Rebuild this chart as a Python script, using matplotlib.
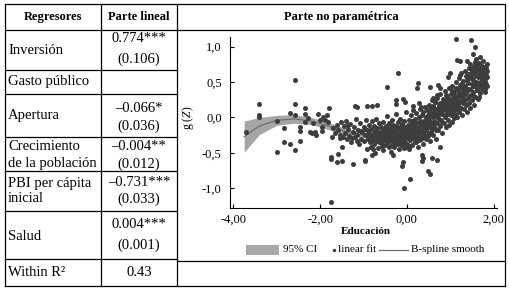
import numpy as np
import matplotlib
matplotlib.use("Agg")
import matplotlib.pyplot as plt
from matplotlib.patches import Rectangle

plt.rcParams['font.family'] = ['Liberation Serif', 'DejaVu Serif']
plt.rcParams['mathtext.fontset'] = 'custom'
plt.rcParams['mathtext.rm'] = 'Liberation Serif'
plt.rcParams['mathtext.it'] = 'Liberation Serif:italic'

# table content
headers = ["Regresores", "Parte lineal", "Parte no paramétrica"]
regresores = ["Inversión", "Gasto público", "Apertura", "Crecimiento\nde la población",
              "PBI per cápita\ninicial", "Salud", "Within R²"]
coefs = ["0.774***", "", "–0.066*", "–0.004**", "–0.731***", "0.004***", "0.43"]
errores = ["(0.106)", "", "(0.036)", "(0.012)", "(0.033)", "(0.001)", ""]

# B-spline smooth and 95% CI
spl_x = [-3.75, -3.4, -3.0, -2.6, -2.2, -1.8, -1.4, -1.0, -0.6, -0.2, 0.2, 0.6, 1.0, 1.4, 1.8]
spl_y = [-0.27, -0.12, -0.04, -0.02, -0.05, -0.12, -0.2, -0.25, -0.25, -0.19, -0.09, 0.04, 0.18, 0.36, 0.58]
spl_hw = [0.22, 0.12, 0.07, 0.06, 0.05, 0.05, 0.045, 0.03, 0.02, 0.02, 0.02, 0.02, 0.025, 0.03, 0.04]

# scatter: Educacion vs g(Z)
edu = [-3.71, -3.41, -3.41, -3.41, -2.99, -2.99, -2.83, -2.83, -2.69, -2.69, -2.58, -2.58, -2.58, -2.58,
       -2.46, -2.46, -2.46, -2.35, -2.35, -2.35, -2.28, -2.23, -2.19, -2.16, -2.12, -2.09, -2.05, -2.00,
       -1.96, -1.96, -1.93, -1.89, -1.84, -1.82, -1.79, -1.75, -1.75, -1.75, -1.61, -1.50, -1.54, -1.50,
       -1.24, -1.20, -1.15, -0.97, -0.92, -1.59,
       1.13, 1.48, 1.57, 1.53, 1.15, 1.22, 1.38, 1.45, -0.20, -0.47, 0.26, 0.23, 0.53, 0.72, 0.76, 0.99, 0.95,
       -0.70, -0.81, -0.24, -0.25, -0.08, -0.04, 0.15, 0.29, 0.32, 0.61, 0.65, 0.69, 1.68, 1.72, 1.61, 1.65,
       -0.97, -0.81, -0.74, -0.31, -0.08, -0.12, 0.06, -0.06, 0.34, 0.38, 0.34, 0.49, 0.53, 0.57, 0.69, 0.76,
       -1.45, -1.42, -1.40, -1.38, -1.35, -1.33, -1.30, -1.28, -1.25, -1.22, -1.20, -1.18, -1.15, -1.12, -1.10,
       -1.08, -1.05, -1.03, -1.00, -0.98, -0.96, -0.95, -0.93, -0.91, -0.90,
       -1.62, -1.58, -1.55, -1.52, -1.65, -1.70, -1.72,
       -0.88, -0.87, -0.86, -0.85, -0.83, -0.82, -0.80, -0.79, -0.78, -0.76, -0.75, -0.74, -0.72, -0.71, -0.70,
       -0.68, -0.67, -0.66, -0.64, -0.63, -0.62, -0.60, -0.59, -0.58, -0.56, -0.55, -0.54, -0.53, -0.52, -0.50,
       -0.49, -0.48, -0.47, -0.46, -0.45, -0.44, -0.43, -0.42, -0.41, -0.40, -0.39, -0.38, -0.37, -0.36, -0.35,
       -0.34, -0.33, -0.32, -0.31, -0.30, -0.29, -0.28, -0.27, -0.26, -0.25, -0.24, -0.23, -0.22, -0.21, -0.20,
       -0.19, -0.18, -0.17, -0.16, -0.15, -0.14, -0.13, -0.12, -0.11, -0.10, -0.09, -0.08, -0.07, -0.06, -0.05,
       -0.04, -0.03, -0.02, -0.01,
       0.00, 0.01, 0.02, 0.03, 0.04, 0.05, 0.06, 0.07, 0.08, 0.09, 0.10, 0.11, 0.12, 0.13, 0.14, 0.15, 0.16,
       0.17, 0.18, 0.19, 0.20, 0.21, 0.22, 0.23, 0.24, 0.25, 0.26, 0.27, 0.28, 0.29, 0.30, 0.31, 0.32, 0.33,
       0.34, 0.35, 0.36, 0.37, 0.38, 0.39, 0.40, 0.41, 0.42, 0.43, 0.44, 0.45, 0.46, 0.47, 0.48, 0.49,
       0.50, 0.51, 0.52, 0.53, 0.54, 0.55, 0.56, 0.57, 0.58, 0.59, 0.60, 0.61, 0.62, 0.63, 0.64, 0.65, 0.66,
       0.67, 0.68, 0.69, 0.70, 0.71, 0.72, 0.73, 0.74, 0.75, 0.76, 0.77, 0.78, 0.79, 0.80, 0.81, 0.82, 0.83,
       0.84, 0.85, 0.86, 0.87, 0.88, 0.89, 0.90, 0.91, 0.92, 0.93, 0.94, 0.95, 0.96, 0.97, 0.98, 0.99,
       1.00, 1.01, 1.02, 1.03, 1.04, 1.05, 1.06, 1.07, 1.08, 1.09, 1.10, 1.11, 1.12, 1.13, 1.14, 1.15, 1.16,
       1.17, 1.18, 1.19, 1.20, 1.21, 1.22, 1.23, 1.24, 1.25, 1.26, 1.27, 1.28, 1.29, 1.30, 1.31, 1.32, 1.33,
       1.34, 1.35, 1.36, 1.37, 1.38, 1.39, 1.40, 1.41, 1.42, 1.43, 1.44, 1.45, 1.46, 1.47, 1.48, 1.49,
       1.50, 1.51, 1.52, 1.53, 1.54, 1.55, 1.56, 1.57, 1.58, 1.59, 1.60, 1.61, 1.62, 1.63, 1.64, 1.65, 1.66,
       1.67, 1.68, 1.69, 1.70, 1.71, 1.72, 1.73, 1.74, 1.75, 1.76, 1.77, 1.78, 1.79, 1.80, 1.81, 1.82, 1.83,
       1.84, 1.85,
       -1.48, -1.36, -1.26, -1.16, -1.06, -0.97, -0.89, -0.81, -0.77, -0.69, -0.65, -0.61, -0.57, -0.51,
       -0.47, -0.44, -0.40, -0.36, -0.33, -0.29, -0.25, -0.22, -0.18, -0.15, -0.11, -0.08, -0.05, -0.02,
       0.02, 0.05, 0.08, 0.11, 0.14, 0.17, 0.20, 0.23, 0.26, 0.29, 0.32, 0.35, 0.38, 0.41, 0.44, 0.47,
       0.52, 0.55, 0.58, 0.61, 0.64, 0.67, 0.70, 0.73, 0.76, 0.79, 0.82, 0.85, 0.88, 0.91, 0.94, 0.97,
       0.53, 0.62, 0.71, 0.80, 0.89, 0.98,
       1.02, 1.05, 1.08, 1.11, 1.14, 1.17, 1.20, 1.23, 1.26, 1.29, 1.32, 1.35, 1.38, 1.41, 1.44, 1.47,
       1.04, 1.12, 1.22, 1.30, 1.40, 1.48,
       1.52, 1.55, 1.58, 1.61, 1.64, 1.67, 1.70, 1.73, 1.76, 1.79, 1.82, 1.85,
       1.54, 1.60, 1.66, 1.72, 1.78, 1.84, 1.57, 1.69, 1.81]
gz = [-0.21, 0.19, 0.03, 0.00, -0.05, -0.48, -0.15, -0.34, -0.37, 0.07, 0.19, 0.53, 0.03, -0.46,
      -0.14, -0.19, -0.33, 0.13, 0.05, -0.06, -0.01, -0.20, -0.22, -0.08, -0.21, -0.25, 0.05, -0.04,
      -0.13, -0.19, 0.01, -0.03, 0.04, -0.06, 0.14, -0.55, -0.59, -1.19, -0.62, -0.61, -0.29, -0.41,
      -0.65, 0.16, 0.15, -0.61, 0.16, -0.51,
      1.10, 1.09, 1.00, 0.89, 0.81, 0.79, 0.79, 0.76, 0.62, 0.43, 0.49, 0.42, 0.43, 0.46, 0.42, 0.62, 0.57,
      0.18, 0.16, 0.24, 0.19, 0.26, 0.22, 0.16, 0.20, 0.15, 0.27, 0.22, 0.32, 0.67, 0.50, 0.39, 0.29,
      -0.60, -0.53, -0.50, -0.53, -0.62, -0.69, -0.86, -1.00, -0.53, -0.57, -0.61, -0.76, -0.79, -0.57, -0.60, -0.41,
      -0.12, -0.22, -0.05, -0.30, -0.16, -0.26, -0.09, -0.35, -0.20, -0.13, -0.28, -0.02, -0.24, -0.17, -0.38,
      -0.08, -0.30, -0.21, -0.14, -0.33, -0.25, -0.04, -0.45, -0.18, -0.28,
      -0.10, -0.18, -0.25, -0.06, -0.22, -0.15, -0.27,
      -0.22, -0.10, -0.35, -0.28, -0.16, -0.41, -0.05, -0.31, -0.23, -0.12, -0.37, -0.19, -0.27, -0.02, -0.33,
      -0.15, -0.43, -0.24, -0.08, -0.30, -0.20, -0.36, -0.13, -0.27, -0.46, -0.18, -0.06, -0.32, -0.23, -0.39,
      -0.12, -0.28, -0.20, 0.02, -0.35, -0.16, -0.25, -0.42, -0.08, -0.31, -0.19, -0.27, -0.48, -0.14, -0.37,
      -0.04, -0.22, -0.30, -0.10, -0.41, -0.17, -0.26, -0.33, 0.05, -0.21, -0.12, -0.38, -0.29, -0.07, -0.18,
      -0.45, -0.24, -0.33, -0.14, -0.02, -0.27, -0.39, -0.20, -0.09, -0.31, -0.16, -0.25, -0.43, -0.05, -0.35,
      -0.13, -0.22, -0.29, 0.08,
      -0.18, -0.37, -0.10, -0.26, -0.45, -0.03, -0.21, -0.31, -0.14, 0.04, -0.24, -0.39, -0.08, -0.17, -0.29,
      0.10, -0.12, -0.22, -0.34, -0.02, -0.15, -0.27, 0.06, -0.19, -0.08, -0.42, -0.25, 0.00, -0.13, -0.32,
      -0.05, 0.12, -0.20, -0.10, -0.28, 0.03, -0.16, -0.37, 0.08, -0.06, -0.23, 0.15, -0.12, -0.30, 0.01,
      -0.18, 0.10, -0.08, -0.26, 0.04,
      -0.14, 0.18, -0.03, -0.33, 0.08, -0.20, 0.13, -0.09, 0.25, 0.00, -0.25, 0.16, -0.05, 0.06, -0.15,
      0.22, 0.02, -0.30, 0.11, -0.08, 0.28, 0.04, -0.18, 0.17, -0.02, 0.09, -0.12, 0.33, 0.14, -0.04,
      0.21, 0.05, -0.22, 0.26, 0.10, -0.08, 0.17, 0.37, 0.01, 0.22, -0.13, 0.12, 0.30, 0.06, -0.03,
      0.19, 0.41, 0.09, -0.10, 0.25,
      0.15, 0.03, 0.33, -0.06, 0.20, 0.45, 0.10, 0.28, -0.01, 0.36, 0.16, 0.05, 0.50, 0.24, 0.12,
      0.40, 0.00, 0.30, 0.19, 0.55, 0.08, 0.35, 0.23, 0.46, 0.14, 0.62, 0.29, 0.04, 0.41, 0.20,
      0.52, 0.33, 0.12, 0.66, 0.25, 0.45, 0.17, 0.58, 0.37, 0.08, 0.49, 0.28, 0.70, 0.21, 0.55,
      0.40, 0.13, 0.62, 0.32, 0.47,
      0.24, 0.66, 0.53, 0.36, 0.72, 0.18, 0.45, 0.60, 0.29, 0.69, 0.50, 0.39, 0.75, 0.57, 0.26,
      0.64, 0.44, 0.70, 0.34, 0.58, 0.50, 0.66, 0.40, 0.73, 0.55, 0.62, 0.46, 0.68, 0.57, 0.36,
      0.63, 0.52, 0.70, 0.60, 0.45, 0.66,
      -0.27, -0.11, -0.29, -0.33, -0.19, -0.16, -0.30, -0.26, -0.44, -0.21, -0.34, -0.27, -0.40, -0.15,
      -0.36, -0.30, -0.22, -0.28, -0.40, -0.34, -0.30, -0.16, -0.36, -0.23, -0.27, -0.37, -0.24, -0.41,
      -0.28, -0.15, -0.40, -0.05, -0.20, -0.09, -0.35, -0.27, -0.16, -0.22, -0.30, -0.10, -0.19, -0.05, -0.28, -0.15,
      -0.22, 0.02, -0.16, -0.10, 0.12, -0.18, 0.00, 0.07, 0.20, 0.09, 0.13, 0.25, 0.15, 0.04, 0.28, 0.15,
      -0.08, 0.08, 0.14, -0.06, 0.31, 0.05,
      0.25, 0.08, 0.18, 0.30, 0.22, 0.40, 0.15, 0.32, 0.48, 0.27, 0.42, 0.33, 0.53, 0.40, 0.30, 0.55,
      0.38, 0.42, 0.60, 0.38, 0.61, 0.68,
      0.44, 0.58, 0.78, 0.60, 0.49, 0.77, 0.62, 0.52, 0.80, 0.71, 0.47, 0.57,
      0.30, 0.82, 0.58, 0.62, 0.48, 0.76, 0.65, 0.85, 0.40]

fig = plt.figure(figsize=(5.09, 2.91), dpi=100)

# table drawn in pixel coordinates
tab = fig.add_axes([0, 0, 1, 1])
tab.set_xlim(0, 509)
tab.set_ylim(291, 0)
tab.axis('off')

cols = [5, 101, 177, 505]
rows = [4, 30, 70, 94, 137, 171, 211, 259, 286]
for c in cols:
    tab.plot([c, c], [rows[0], rows[-1]], color='black', lw=0.9)
for r in rows:
    right = cols[3] if r in (4, 30, 286) else cols[2]
    tab.plot([cols[0], right], [r, r], color='black', lw=0.9)
tab.plot([cols[2], cols[3]], [261, 261], color='black', lw=0.9)

tab.text(53, 17, headers[0], ha='center', va='center', fontsize=9, fontweight='bold')
tab.text(139, 17, headers[1], ha='center', va='center', fontsize=9, fontweight='bold')
tab.text(341, 17, headers[2], ha='center', va='center', fontsize=9, fontweight='bold')

label_y = [51, 81, 115, 155, 191, 236, 273]
coef_y = [38, 0, 108, 147, 182, 225, 273]
err_y = [59, 0, 126, 164, 199, 245, 0]
for i, lab in enumerate(regresores):
    tab.text(8, label_y[i], lab, ha='left', va='center', fontsize=10.5, linespacing=1.3)
    if coefs[i]:
        tab.text(139, coef_y[i], coefs[i], ha='center', va='center', fontsize=10.5)
    if errores[i]:
        tab.text(139, err_y[i], errores[i], ha='center', va='center', fontsize=10.5)

# chart
ax = fig.add_axes([230 / 509, 1 - 208 / 291, (497 - 230) / 509, (208 - 37) / 291])
lo = np.array(spl_y) - np.array(spl_hw)
hi = np.array(spl_y) + np.array(spl_hw)
ax.fill_between(spl_x, lo, hi, color='#a5a5a5', lw=0, zorder=1)
ax.plot(spl_x, spl_y, color='#6e6e6e', lw=0.9, zorder=1.5)
ax.scatter(edu, gz, s=13, color='#3d3d3d', linewidths=0, zorder=2)

ax.set_xlim(-4.076, 2.076)
ax.set_ylim(-1.275, 1.134)
ax.set_xticks([-4, -2, 0, 2])
ax.set_xticklabels(["-4,00", "-2,00", "0,00", "2,00"])
ax.set_yticks([-1, -0.5, 0, 0.5, 1])
ax.set_yticklabels(["-1,0", "-0,5", "0,0", "0,5", "1,0"])
ax.tick_params(direction='in', length=3, width=0.8, labelsize=9)
ax.tick_params(axis='y', pad=6)
ax.tick_params(axis='x', pad=4)
for s in ['top', 'right']:
    ax.spines[s].set_visible(False)
for s in ['left', 'bottom']:
    ax.spines[s].set_linewidth(0.8)
ax.patch.set_alpha(0)

tab.text(188, 118, r'g ($Z$)', rotation=90, ha='center', va='center', fontsize=8.5)
tab.text(366, 231, "Educación", ha='center', va='center', fontsize=8, fontweight='bold')

# legend
tab.add_patch(Rectangle((246, 245), 33, 10, color='#a8a8a8', lw=0))
tab.text(283, 250, "95% CI", ha='left', va='center', fontsize=8)
tab.scatter([334], [250], s=6, color='#3d3d3d', linewidths=0)
tab.text(338, 250, "linear fit", ha='left', va='center', fontsize=8)
tab.plot([379, 408], [250, 250], color='#6e6e6e', lw=0.9)
tab.text(411, 250, "B-spline smooth", ha='left', va='center', fontsize=8)

fig.savefig("out.png", dpi=100)
